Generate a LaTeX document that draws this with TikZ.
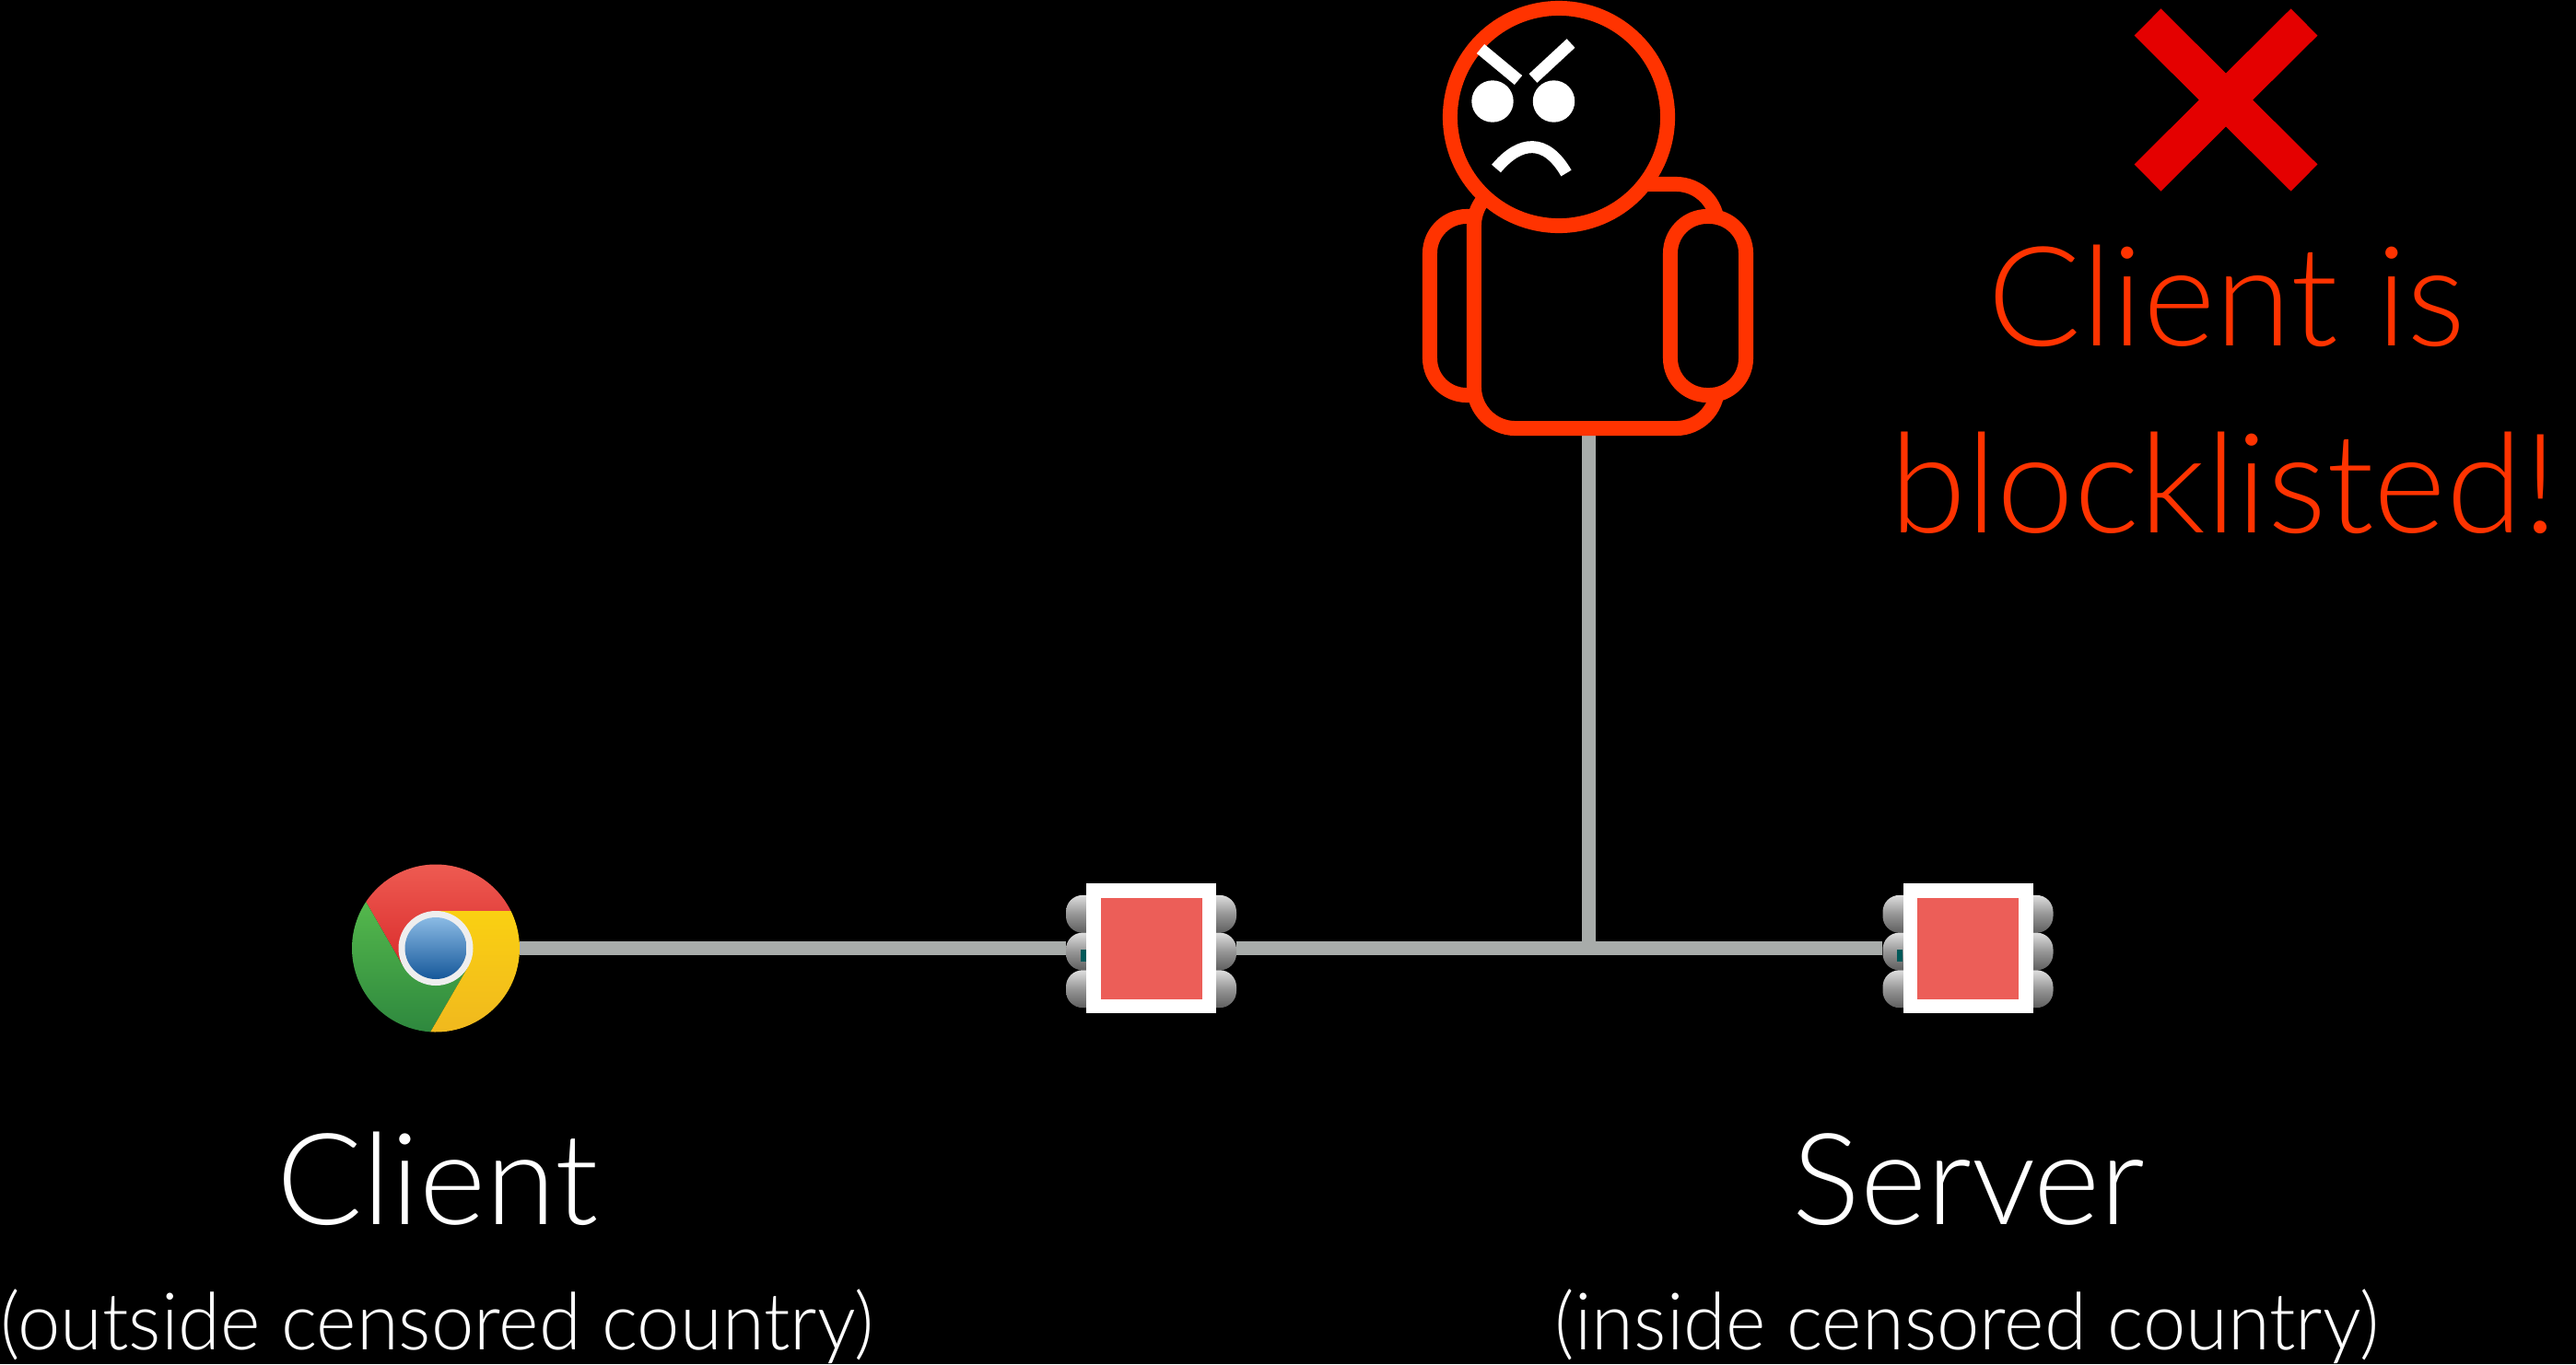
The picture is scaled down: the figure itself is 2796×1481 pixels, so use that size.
\documentclass[tikz,border=0pt]{standalone}
\usepackage{fontspec}
\IfFontExistsTF{Lato Light}
  {\setmainfont{Lato Light}
   \newfontfamily\notefont{Lato Light}[FakeStretch=0.965]}
  {\setmainfont{Lato}
   \newfontfamily\notefont{Lato}[FakeStretch=0.965]}
\usetikzlibrary{calc}

\definecolor{alarm}{RGB}{255,51,0}
\definecolor{wire}{RGB}{168,172,170}
\definecolor{xred}{RGB}{228,0,0}
\definecolor{boxred}{RGB}{236,94,88}
\definecolor{lobelight}{RGB}{222,222,222}
\definecolor{lobemid}{RGB}{150,150,150}
\definecolor{lobedark}{RGB}{95,95,95}
\definecolor{chromeredA}{RGB}{240,96,86}
\definecolor{chromeredB}{RGB}{218,44,44}
\definecolor{chromeyelA}{RGB}{250,208,18}
\definecolor{chromeyelB}{RGB}{240,184,30}
\definecolor{chromegrnA}{RGB}{84,184,76}
\definecolor{chromegrnB}{RGB}{46,136,62}
\definecolor{chromebluA}{RGB}{138,186,228}
\definecolor{chromebluB}{RGB}{22,88,154}
\definecolor{ringwhite}{RGB}{238,238,238}

\pgfdeclarelayer{canvas}
\pgfdeclarelayer{wires}
\pgfsetlayers{canvas,wires,main}

\tikzset{
  wireline/.style={draw=wire, line width=0.15cm},
  outline/.style={draw=alarm, line width=0.16cm, fill=black, inner sep=0},
  facestroke/.style={draw=white, line width=0.13cm},
  slot/.style={inner sep=0, outer sep=0},
  whitetext/.style={text=white, anchor=base, inner sep=0},
  biglabel/.style={whitetext, font=\fontsize{39.3}{47}\selectfont},
  smalllabel/.style={whitetext, font=\notefont\fontsize{24.5}{29}\selectfont},
  alert/.style={text=alarm, anchor=base, inner sep=0, font=\fontsize{42.8}{51}\selectfont},
}

% metallic stacked box with a framed red square on top
\newcommand\drawrouter[1]{%
  \begin{scope}[shift={(#1.center)}]
    \foreach \dy in {37.2,-3.5,-44.2}{
      \shade[top color=lobelight, bottom color=lobedark, middle color=lobemid,
             rounded corners=0.18cm] (-92.5,\dy-20.4) rectangle (92.5,\dy+20.4);
    }
    \fill[teal!70!black] (-77,-1) rectangle (-71,-14);
    \fill[white] (-70.5,-70.5) rectangle (70.5,70.5);
    \fill[boxred] (-55,-55) rectangle (55,55);
  \end{scope}}

\begin{document}
\begin{tikzpicture}[x=0.01cm, y=0.01cm]
  \begin{pgfonlayer}{canvas}
    \fill[black] (0,0) rectangle (2796,-1481);
  \end{pgfonlayer}
  \useasboundingbox (0,0) rectangle (2796,-1481);

  % network elements
  \node[slot, circle, minimum size=1.82cm] (client) at (473,-1029.5) {};
  \node[slot, rectangle, minimum width=1.85cm, minimum height=1.22cm] (r1) at (1249.5,-1029.5) {};
  \node[slot, rectangle, minimum width=1.85cm, minimum height=1.22cm] (r2) at (2136,-1029.5) {};
  \coordinate (tap) at (1724,-1029.5);

  % browser icon
  \begin{scope}[shift={(client.center)}]
    \shade[top color=chromeredA, bottom color=chromeredB]
      (90:40.5) -- (26.4:91) arc[start angle=26.4, end angle=146.4, radius=91]
      -- (210:40.5) -- (0,0) -- cycle;
    \shade[top color=chromegrnA, bottom color=chromegrnB]
      (210:40.5) -- (146.4:91) arc[start angle=146.4, end angle=266.4, radius=91]
      -- (330:40.5) -- (0,0) -- cycle;
    \shade[top color=chromeyelA, bottom color=chromeyelB]
      (330:40.5) -- (266.4:91) arc[start angle=266.4, end angle=386.4, radius=91]
      -- (90:40.5) -- (0,0) -- cycle;
    \fill[ringwhite] (0,0) circle[radius=40.5];
    \shade[top color=chromebluA, bottom color=chromebluB] (0,0) circle[radius=33.5];
  \end{scope}

  \drawrouter{r1}
  \drawrouter{r2}

  % censor figure
  \node[outline, rectangle, rounded corners=0.4cm, minimum width=1.28cm, minimum height=1.94cm] (larm) at (1616,-332) {};
  \node[outline, rectangle, rounded corners=0.45cm, minimum width=2.64cm, minimum height=2.65cm] (censor) at (1732,-332.5) {};
  \node[outline, rectangle, rounded corners=0.4cm, minimum width=0.82cm, minimum height=1.94cm] (rarm) at (1854,-332) {};
  \node[outline, circle, minimum size=2.36cm] (head) at (1692,-127) {};

  \draw[facestroke] (1607,-53) -- (1648,-87);
  \draw[facestroke] (1705,-47) -- (1664,-85);
  \fill[white] (1620,-110) circle[radius=22.7];
  \fill[white] (1686.5,-110) circle[radius=22.7];
  \draw[facestroke] (1624,-183) .. controls (1650,-152) and (1678,-150) .. (1700,-188);

  % connections
  \begin{pgfonlayer}{wires}
    \draw[wireline] (client.east) -- (r1.west);
    \draw[wireline] (r1.east) -- (r2.west);
    \draw[wireline] (tap |- censor.south) -- (tap);
  \end{pgfonlayer}

  % verdict
  \draw[xred, line width=0.41cm] (2331,-24) -- (2501,-193) (2331,-193) -- (2501,-24);
  \node[alert] (msg1) at (2417,-375) {Client is};
  \node[alert] (msg2) at (2414,-578) {blocklisted!};

  % labels
  \node[biglabel] (clientlbl) at (475,-1329) {Client};
  \node[biglabel] (serverlbl) at (2137,-1329) {Server};
  \node[smalllabel] (clientnote) at (474,-1465) {(outside censored country)};
  \node[smalllabel] (servernote) at (2135,-1465) {(inside censored country)};
\end{tikzpicture}
\end{document}
